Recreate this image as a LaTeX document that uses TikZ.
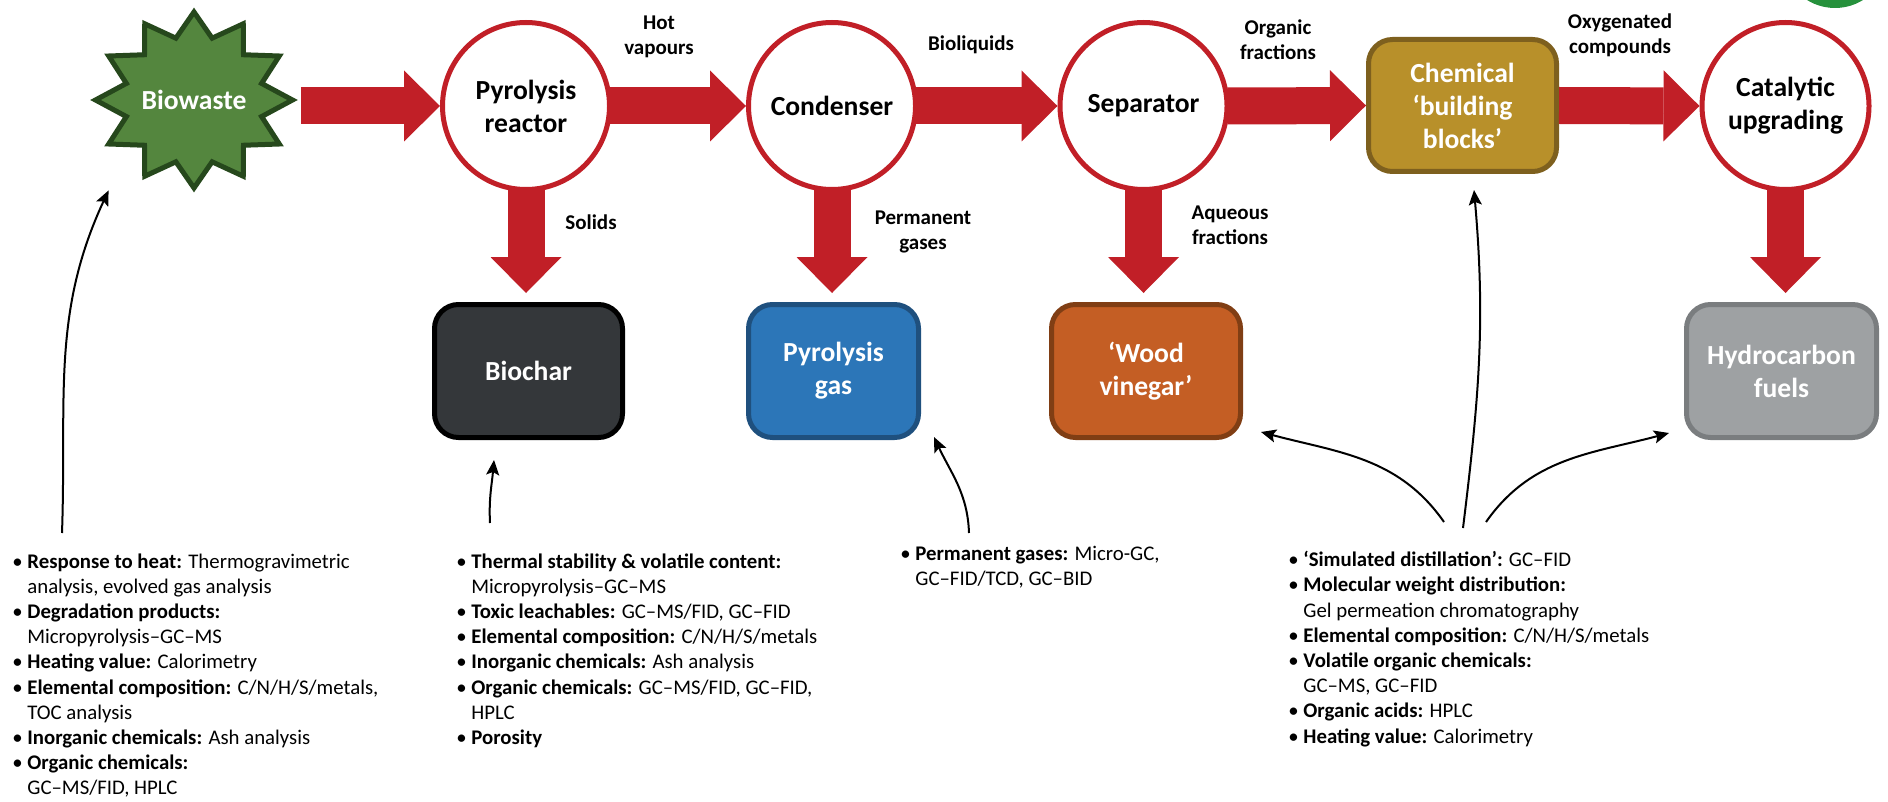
\documentclass[tikz,border=0pt]{standalone}
\usepackage{fontspec}
\setmainfont{Carlito}
\usepackage{tikz}
\usetikzlibrary{arrows.meta}

\definecolor{flowred}{RGB}{193,31,39}
\definecolor{starfill}{RGB}{84,134,62}
\definecolor{starline}{RGB}{38,72,28}
\definecolor{charfill}{RGB}{52,55,58}
\definecolor{gasfill}{RGB}{44,118,184}
\definecolor{gasline}{RGB}{31,80,126}
\definecolor{vinegarfill}{RGB}{196,94,36}
\definecolor{vinegarline}{RGB}{128,62,20}
\definecolor{chemfill}{RGB}{184,144,42}
\definecolor{chemline}{RGB}{126,96,30}
\definecolor{fuelfill}{RGB}{158,161,163}
\definecolor{fuelline}{RGB}{122,125,127}
\definecolor{badgegreen}{RGB}{38,145,60}

\newcommand\procfont{\fontsize{13.8}{16.5}\selectfont\bfseries}
\newcommand\flowfont{\fontsize{10.5}{12.5}\selectfont\bfseries}
\newcommand\infofont{\fontsize{10.4}{12.6}\selectfont}
\newcommand\infoitem[1]{\makebox[7.5pt][l]{•}\textbf{#1}}
\newcommand\infomore{\hspace*{7.5pt}}

\tikzset{
  procnode/.style={circle,draw=flowred,line width=2.5pt,fill=white,
    minimum size=83.5pt,inner sep=0pt,align=center,font=\procfont},
  prodbox/.style={rounded corners=12pt,line width=2.5pt,minimum height=66.5pt,
    inner sep=0pt,align=center,text=white,font=\procfont},
  biostar/.style={fill=starfill,draw=starline,line width=2.5pt},
  flow/.style={draw=flowred,line width=18.5pt,
    -{Triangle[width=35.5pt,length=18pt,line width=0pt]}},
  flowlabel/.style={font=\flowfont,align=center,inner sep=0pt},
  probe/.style={line width=1pt,-{Stealth[length=7.5pt,width=6.5pt,inset=1.5pt]}},
  infolist/.style={anchor=north west,align=left,inner sep=0pt,font=\infofont}
}

\begin{document}
\begin{tikzpicture}[x=0.5pt,y=-0.5pt]
  \useasboundingbox (0,0) rectangle (1888,802);
  \clip (0,0) rectangle (1888,802);
  \fill[badgegreen] (1835,-45) circle[radius=53];

  % feedstock
  \draw[biostar,shift={(194,100)}] (0:98.5 and 88)
    \foreach \a in {0,30,...,330} { -- (\a+15:70 and 64) -- (\a+30:98.5 and 88) } -- cycle;
  \node[font=\procfont,text=white,minimum width=98.5pt,minimum height=88pt,inner sep=0pt]
    (biowaste) at (194,100) {Biowaste};

  % process steps
  \node[procnode] (reactor) at (526,106) {Pyrolysis\\reactor};
  \node[procnode] (condenser) at (832,106) {Condenser};
  \node[procnode] (separator) at (1143.5,106) {Separator};
  \node[prodbox,fill=chemfill,draw=chemline,minimum width=94pt,minimum height=66pt]
    (chem) at (1462.5,105.5) {Chemical\\‘building\\blocks’};
  \node[procnode] (catalytic) at (1785.5,106) {Catalytic\\upgrading};

  % products
  \node[prodbox,fill=charfill,draw=black,minimum width=94pt] (biochar) at (528.5,371) {Biochar};
  \node[prodbox,fill=gasfill,draw=gasline,minimum width=85pt] (gas) at (833.5,371) {Pyrolysis\\gas};
  \node[prodbox,fill=vinegarfill,draw=vinegarline,minimum width=94.5pt] (vinegar) at (1146,371) {‘Wood\\vinegar’};
  \node[prodbox,fill=fuelfill,draw=fuelline,minimum width=95pt] (fuels) at (1781.5,371) {Hydrocarbon\\fuels};

  % main flow
  \draw[flow] ([xshift=4pt]biowaste.east |- reactor.west) -- (reactor.west);
  \draw[flow] ([xshift=-1pt]reactor.east) -- (condenser.west);
  \draw[flow] ([xshift=-1pt]condenser.east) -- (separator.west);
  \draw[flow] ([xshift=-1pt]separator.east) -- (chem.west);
  \draw[flow] (chem.east) -- (catalytic.west);
  \draw[flow] ([yshift=1pt]reactor.south) -- ([yshift=4.5pt]reactor.south |- biochar.north);
  \draw[flow] ([yshift=1pt]condenser.south) -- ([yshift=4.5pt]condenser.south |- gas.north);
  \draw[flow] ([yshift=1pt]separator.south) -- ([yshift=4.5pt]separator.south |- vinegar.north);
  \draw[flow] ([yshift=1pt]catalytic.south) -- ([yshift=4.5pt]catalytic.south |- fuels.north);

  \node[flowlabel] (hotlabel) at (659,37) {Hot\\vapours};
  \node[flowlabel] (liquidlabel) at (971,45) {Bioliquids};
  \node[flowlabel] (organiclabel) at (1278,40) {Organic\\fractions};
  \node[flowlabel] (oxylabel) at (1620,35) {Oxygenated\\compounds};
  \node[flowlabel] (solidlabel) at (591,222) {Solids};
  \node[flowlabel] (permlabel) at (923,232) {Permanent\\gases};
  \node[flowlabel] (aqueouslabel) at (1230,225) {Aqueous\\fractions};

  % analysis lists
  \node[infolist] (feedinfo) at (12,553) {%
    \infoitem{Response to heat:} Thermogravimetric\\
    \infomore analysis, evolved gas analysis\\
    \infoitem{Degradation products:}\\
    \infomore Micropyrolysis–GC–MS\\
    \infoitem{Heating value:} Calorimetry\\
    \infoitem{Elemental composition:} C/N/H/S/metals,\\
    \infomore TOC analysis\\
    \infoitem{Inorganic chemicals:} Ash analysis\\
    \infoitem{Organic chemicals:}\\
    \infomore GC–MS/FID, HPLC};
  \node[infolist] (charinfo) at (456,553) {%
    \infoitem{Thermal stability \& volatile content:}\\
    \infomore Micropyrolysis–GC–MS\\
    \infoitem{Toxic leachables:} GC–MS/FID, GC–FID\\
    \infoitem{Elemental composition:} C/N/H/S/metals\\
    \infoitem{Inorganic chemicals:} Ash analysis\\
    \infoitem{Organic chemicals:} GC–MS/FID, GC–FID,\\
    \infomore HPLC\\
    \infoitem{Porosity}};
  \node[infolist] (gasinfo) at (900,546) {%
    \infoitem{Permanent gases:} Micro-GC,\\
    \infomore GC–FID/TCD, GC–BID};
  \node[infolist] (oilinfo) at (1288,551) {%
    \infoitem{‘Simulated distillation’:} GC–FID\\
    \infoitem{Molecular weight distribution:}\\
    \infomore Gel permeation chromatography\\
    \infoitem{Elemental composition:} C/N/H/S/metals\\
    \infoitem{Volatile organic chemicals:}\\
    \infomore GC–MS, GC–FID\\
    \infoitem{Organic acids:} HPLC\\
    \infoitem{Heating value:} Calorimetry};

  % analysis pointers
  \coordinate (feedtail) at (62,533);
  \coordinate (chartail) at (490,523);
  \coordinate (gastail) at (969,533);
  \coordinate (vinegartail) at (1444,522);
  \coordinate (chemtail) at (1463,528);
  \coordinate (fueltail) at (1486,522);
  \draw[probe] (feedtail) to[out=88,in=245] ([xshift=6.75pt,yshift=-1pt]biowaste.south west);
  \draw[probe] (chartail) to[out=93,in=265] ([xshift=-17.25pt,yshift=-10pt]biochar.south);
  \draw[probe] (gastail) to[out=92,in=295] ([xshift=6.5pt,yshift=1.5pt]gas.south east);
  \draw[probe] (vinegartail) to[out=125,in=-15] ([xshift=9pt,yshift=4pt]vinegar.south east);
  \draw[probe] (chemtail) to[out=83,in=275] ([xshift=5.75pt,yshift=-8pt]chem.south);
  \draw[probe] (fueltail) to[out=55,in=195] ([xshift=-7.5pt,yshift=3.5pt]fuels.south west);
\end{tikzpicture}
\end{document}
